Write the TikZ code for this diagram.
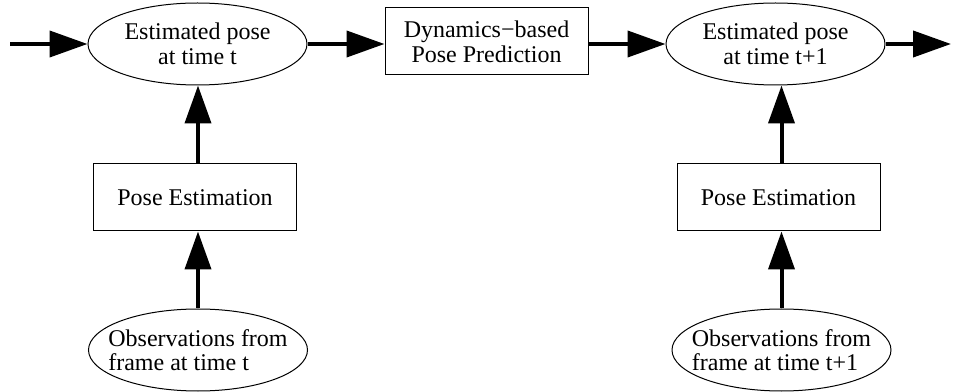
\documentclass[tikz,border=0pt]{standalone}
\usepackage{fontspec}
\setmainfont{Liberation Serif}
\usetikzlibrary{arrows.meta,shapes.geometric}
\tikzset{
  ar/.style={-{Triangle[length=19pt,width=13pt]},line width=2pt},
  box/.style={draw,line width=0.5pt,minimum width=101.5pt,minimum height=33.5pt,align=center,inner sep=0pt,font=\fontsize{12}{12.3}\selectfont},
  ell/.style={ellipse,draw,line width=0.5pt,minimum width=109.5pt,minimum height=41pt,align=center,inner sep=0pt,font=\fontsize{12}{12.3}\selectfont},
  obsell/.style={ell,align=left,inner xsep=-8pt}
}
\begin{document}
\begin{tikzpicture}[x=0.5pt,y=0.5pt]
\useasboundingbox (0,0) rectangle (953,391);
% top row
\node[ell] (est1) at (197.5,347) {Estimated pose\\at time t};
\node[box] (dyn) at (486.5,349.5) {Dynamics−based\\Pose Prediction};
\node[ell] (est2) at (775.5,347) {Estimated pose\\at time t+1};
% estimation and observations
\node[box] (pe1) at (195,193.5) {Pose Estimation};
\node[box] (pe2) at (778.5,193.5) {Pose Estimation};
\node[obsell] (obs1) at (198,41) {Observations from\\frame at time t};
\node[obsell] (obs2) at (781.5,41) {Observations from\\frame at time t+1};
\coordinate (in) at (10,347);
\coordinate (out) at (951,347);
% connectors
\draw[ar] (in) -- (est1.west);
\draw[ar] (est1.east) -- (est1.east -| dyn.west);
\draw[ar] (est2.west -| dyn.east) -- (est2.west);
\draw[ar] (est2.east) -- (out);
\draw[ar] (obs1) -- (obs1 |- pe1.south);
\draw[ar] (obs1 |- pe1.north) -- (obs1 |- est1.south);
\draw[ar] (obs2) -- (obs2 |- pe2.south);
\draw[ar] (obs2 |- pe2.north) -- (obs2 |- est2.south);
\end{tikzpicture}
\end{document}
